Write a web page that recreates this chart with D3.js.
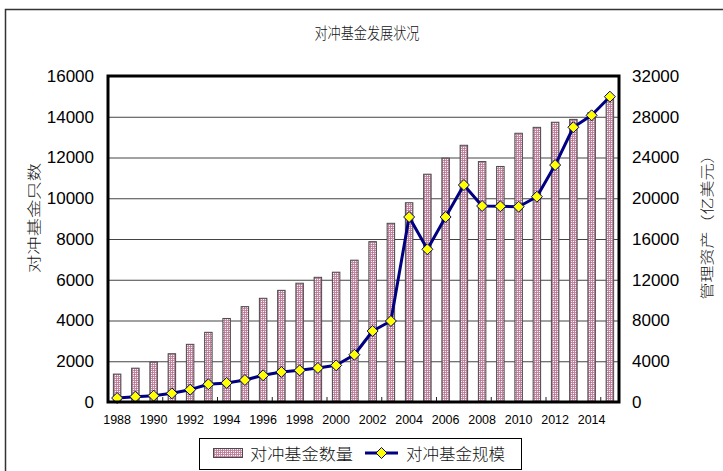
<!DOCTYPE html>
<html><head><meta charset="utf-8">
<script src="https://cdn.jsdelivr.net/npm/d3@7/dist/d3.min.js"></script>
<style>body{margin:0;background:#fff;}svg{display:block;}</style>
</head><body>
<script>
const years = [1988,1989,1990,1991,1992,1993,1994,1995,1996,1997,1998,1999,2000,2001,2002,2003,2004,2005,2006,2007,2008,2009,2010,2011,2012,2013,2014,2015];
const fundCount = [1370,1660,1960,2370,2830,3420,4100,4680,5090,5480,5830,6120,6370,6960,7870,8770,9780,11180,11970,12600,11800,11560,13190,13480,13730,13870,14200,14900];
const fundAUM = [390,520,620,850,1210,1740,1870,2160,2620,2950,3110,3340,3600,4640,6970,7950,18160,14990,18160,21300,19240,19210,19170,20150,23260,26970,28140,29970];
const leftTicks = [0,2000,4000,6000,8000,10000,12000,14000,16000];
const rightTicks = [0,4000,8000,12000,16000,20000,24000,28000,32000];
const xTickLabels = ["1988","1990","1992","1994","1996","1998","2000","2002","2004","2006","2008","2010","2012","2014"];
const titleText = "对冲基金发展状况";
const leftTitle = "对冲基金只数";
const rightTitle = "管理资产（亿美元）";
const legendBar = "对冲基金数量";
const legendLine = "对冲基金规模";

const W = 723, H = 471;
const L = 108, R = 619, T = 76, B = 402;
const latin = "'Liberation Sans', Arial, sans-serif";
const cjk = "'Noto Sans CJK SC', sans-serif";

const svg = d3.select("body").append("svg").attr("width", W).attr("height", H);
const defs = svg.append("defs");
const pat = defs.append("pattern").attr("id","hatch").attr("patternUnits","userSpaceOnUse")
  .attr("width",4).attr("height",4);
pat.append("rect").attr("width",4).attr("height",4).attr("fill","#c48aa4");
[[1,1],[3,3]].forEach(([a,b])=>pat.append("rect").attr("x",a).attr("y",b).attr("width",1).attr("height",1).attr("fill","#ffffff"));
[[1,3],[3,1]].forEach(([a,b])=>pat.append("rect").attr("x",a).attr("y",b).attr("width",1).attr("height",1).attr("fill","#f6e4ec"));
[[0,0],[2,2]].forEach(([a,b])=>pat.append("rect").attr("x",a).attr("y",b).attr("width",1).attr("height",1).attr("fill","#b07390"));

// outer frame
svg.append("rect").attr("x",5.5).attr("y",9.5).attr("width",W+20).attr("height",H+20)
  .attr("fill","none").attr("stroke","#333").attr("stroke-width",1.5);

const x = d3.scaleBand().domain(years).range([L, R]).paddingInner(0).paddingOuter(0);
const yL = d3.scaleLinear().domain([0,16000]).range([B, T]);
const yR = d3.scaleLinear().domain([0,32000]).range([B, T]);

// gridlines
svg.append("g").attr("transform",`translate(${L},0)`)
  .call(d3.axisLeft(yL).tickValues(leftTicks).tickSize(-(R-L)).tickFormat(""))
  .call(g=>g.select(".domain").remove())
  .call(g=>g.selectAll("line").attr("stroke","#444").attr("stroke-width",1));

// bars
const bw = x.bandwidth()*0.41;
svg.append("g").selectAll("rect").data(years).join("rect")
  .attr("x", (d)=>x(d)+x.bandwidth()/2-bw/2)
  .attr("y", (d,i)=>yL(fundCount[i]))
  .attr("width", bw)
  .attr("height", (d,i)=>B-yL(fundCount[i]))
  .attr("fill","url(#hatch)").attr("stroke","#4a4a4a").attr("stroke-width",1);

// inner bottom ticks
const tickIdx = d3.range(3, years.length, 3);
svg.append("g").selectAll("line").data(tickIdx).join("line")
  .attr("x1", k=>x(years[k])).attr("x2", k=>x(years[k]))
  .attr("y1", B).attr("y2", B-5).attr("stroke","#222").attr("stroke-width",1);

// line
const cx = d=>x(d)+x.bandwidth()/2;
svg.append("path").datum(years)
  .attr("d", d3.line().x(d=>cx(d)).y((d,i)=>yR(fundAUM[i])))
  .attr("fill","none").attr("stroke","#000080").attr("stroke-width",3).attr("stroke-linejoin","round");
const diamond = "M0,-5.5L5.5,0L0,5.5L-5.5,0Z";
svg.append("g").selectAll("path").data(years).join("path")
  .attr("transform",(d,i)=>`translate(${cx(d)},${yR(fundAUM[i])})`)
  .attr("d", diamond).attr("fill","#ffff00").attr("stroke","#000080").attr("stroke-width",1);

// plot frame
svg.append("rect").attr("x",L).attr("y",T).attr("width",R-L).attr("height",B-T)
  .attr("fill","none").attr("stroke","#000").attr("stroke-width",3);

// left axis labels
svg.append("g").attr("transform",`translate(${L},0)`)
  .call(d3.axisLeft(yL).tickValues(leftTicks).tickSize(0).tickPadding(14).tickFormat(d3.format("d")))
  .call(g=>g.select(".domain").remove())
  .call(g=>g.selectAll("text").attr("font-family",latin).attr("font-size",17).attr("fill","#000"));
// right axis labels
svg.append("g").attr("transform",`translate(${R},0)`)
  .call(d3.axisRight(yR).tickValues(rightTicks).tickSize(0).tickPadding(13).tickFormat(d3.format("d")))
  .call(g=>g.select(".domain").remove())
  .call(g=>g.selectAll("text").attr("font-family",latin).attr("font-size",17).attr("fill","#000"));
// bottom labels
svg.append("g").attr("transform",`translate(0,${B})`)
  .call(d3.axisBottom(x).tickValues(years.filter(y=>xTickLabels.includes(String(y)))).tickSize(0).tickPadding(13).tickFormat(d=>String(d)))
  .call(g=>g.select(".domain").remove())
  .call(g=>g.selectAll("text").attr("font-family",latin).attr("font-size",12.5).attr("fill","#000"));

// titles
svg.append("text").attr("x",367).attr("y",39).attr("text-anchor","middle")
  .attr("font-family",cjk).attr("font-size",16).attr("font-weight",300).attr("fill","#111")
  .attr("textLength",105).attr("lengthAdjust","spacingAndGlyphs").text(titleText);
svg.append("text").attr("transform","translate(39,218) rotate(-90)").attr("text-anchor","middle")
  .attr("font-family",cjk).attr("font-size",14).attr("font-weight",300).attr("fill","#111")
  .attr("textLength",110).attr("lengthAdjust","spacingAndGlyphs").text(leftTitle);
svg.append("text").attr("transform","translate(712,223) rotate(-90)").attr("text-anchor","middle")
  .attr("font-family",cjk).attr("font-size",14).attr("font-weight",300).attr("fill","#111")
  .attr("textLength",153).attr("lengthAdjust","spacingAndGlyphs").text(rightTitle);

// legend
const lg = svg.append("g");
lg.append("rect").attr("x",199.5).attr("y",438.5).attr("width",322).attr("height",31)
  .attr("fill","#fff").attr("stroke","#000").attr("stroke-width",1);
lg.append("rect").attr("x",213.5).attr("y",448.5).attr("width",29).attr("height",9)
  .attr("fill","url(#hatch)").attr("stroke","#4a4a4a").attr("stroke-width",1);
lg.append("text").attr("x",250).attr("y",460).attr("font-family",cjk).attr("font-size",16).attr("font-weight",300)
  .attr("fill","#111").attr("textLength",103).attr("lengthAdjust","spacingAndGlyphs").text(legendBar);
lg.append("line").attr("x1",365).attr("x2",398).attr("y1",453).attr("y2",453)
  .attr("stroke","#000080").attr("stroke-width",3);
lg.append("path").attr("transform","translate(381.5,453)").attr("d",diamond)
  .attr("fill","#ffff00").attr("stroke","#000080").attr("stroke-width",1);
lg.append("text").attr("x",406).attr("y",460).attr("font-family",cjk).attr("font-size",16).attr("font-weight",300)
  .attr("fill","#111").attr("textLength",99).attr("lengthAdjust","spacingAndGlyphs").text(legendLine);
</script>
</body></html>
